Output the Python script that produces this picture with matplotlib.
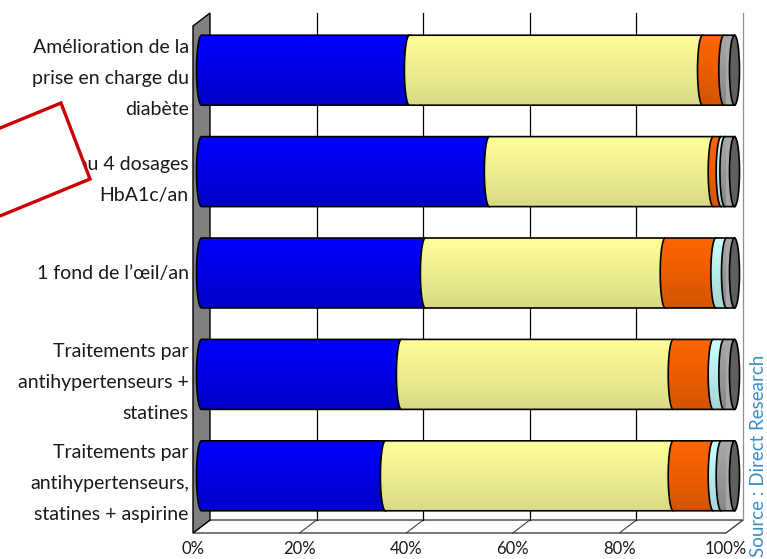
import numpy as np
import matplotlib.pyplot as plt
from matplotlib.patches import Polygon, Ellipse
from matplotlib.colors import LinearSegmentedColormap
from matplotlib.transforms import ScaledTranslation

# Données (pourcentages)
categories = [
    "Amélioration de la\nprise en charge du\ndiabète",
    "3 ou 4 dosages\nHbA1c/an",
    "1 fond de l\u2019œil/an",
    "Traitements par\nantihypertenseurs +\nstatines",
    "Traitements par\nantihypertenseurs,\nstatines + aspirine",
]
bleu = [39, 54, 42, 37.5, 34.5]
jaune = [55, 42, 45, 51, 54]
orange = [4, 1.5, 9.5, 7.5, 7.5]
cyan = [0, 0.7, 2, 2, 1.5]
gris = [2, 1.8, 1.5, 2, 2.5]

xticks = [0, 20, 40, 60, 80, 100]
xticklabels = ["0%", "20%", "40%", "60%", "80%", "100%"]

# couleurs (haut, bas) pour chaque série
couleurs = [
    ("#0000ff", "#0000c8"),
    ("#ffff99", "#dada86"),
    ("#ff6600", "#d45400"),
    ("#ccffff", "#a6d6d6"),
    ("#a8a8a8", "#888888"),
]
couleur_cap = "#5f5f5f"

plt.rcParams['font.family'] = ['Lato', 'DejaVu Sans']

W, H = 767, 559
fig = plt.figure(figsize=(W / 100, H / 100), dpi=100)
ax = fig.add_axes([193 / W, (H - 533) / H, 533 / W, 507 / H])
ax.set_xlim(0, 100)
ax.set_ylim(4.5, -0.5)
for s in ax.spines.values():
    s.set_visible(False)

# profondeur 3D en unités de données
px_x = 100 / 533
px_y = 5 / 507
dx = 17 * px_x
dy = 13 * px_y

# sol
ax.add_patch(Polygon([(0, 4.5), (100, 4.5), (100 + dx, 4.5 - dy), (dx, 4.5 - dy)],
                     closed=True, facecolor='white', edgecolor='#404040', lw=1,
                     clip_on=False, zorder=1))
for v in xticks[1:-1]:
    ax.plot([v, v + dx], [4.5, 4.5 - dy], color='#404040', lw=0.8, clip_on=False, zorder=1)
# mur gauche
ax.add_patch(Polygon([(0, 4.5), (0, -0.5), (dx, -0.5 - dy), (dx, 4.5 - dy)],
                     closed=True, facecolor='#808080', edgecolor='black', lw=1,
                     clip_on=False, zorder=2))
# quadrillage (mur du fond)
for v in xticks[1:]:
    c = '#909090' if v == 100 else 'black'
    ax.plot([v + dx, v + dx], [-0.5 - dy, 4.5 - dy], color=c, lw=0.9, clip_on=False, zorder=1)

# barres cylindriques
h = 0.69
a = 5 * px_x  # demi-largeur des ellipses
t = np.linspace(0, np.pi, 40)
grad = np.linspace(0, 1, 64).reshape(-1, 1)
series = [bleu, jaune, orange, cyan, gris]

for i in range(len(categories)):
    yc = i - dy / 2
    left = dx / 2
    z = 3
    for k, serie in enumerate(series):
        w = serie[i]
        if w <= 0:
            continue
        right = left + w
        arc_x = left - a * np.sin(t)
        arc_y = yc + h / 2 * np.cos(t)
        pts = [(right, yc - h / 2), (right, yc + h / 2)] + list(zip(arc_x, arc_y))
        poly = Polygon(pts, closed=True, facecolor=couleurs[k][0], edgecolor='none',
                       clip_on=False, zorder=z)
        ax.add_patch(poly)
        cmap = LinearSegmentedColormap.from_list('g', list(couleurs[k]))
        im = ax.imshow(grad, cmap=cmap, aspect='auto', origin='upper',
                       extent=(left - a, right, yc + h / 2, yc - h / 2),
                       interpolation='bilinear', zorder=z + 0.1)
        im.set_clip_path(poly)
        # contour par-dessus le dégradé
        ax.add_patch(Polygon(pts, closed=True, fill=False, edgecolor='black',
                             lw=1.2, clip_on=False, zorder=z + 0.2))
        z += 1
        left = right
    ax.add_patch(Ellipse((left, yc), 2 * a, h, facecolor=couleur_cap,
                         edgecolor='black', lw=1.2, clip_on=False, zorder=z + 1))

ax.set_xlim(0, 100)
ax.set_ylim(4.5, -0.5)

ax.set_xticks(xticks, xticklabels)
ax.set_yticks(range(len(categories)), categories)
ax.tick_params(axis='x', length=0, pad=6, labelsize=12, colors='#1a1a1a')
ax.tick_params(axis='y', length=0, pad=3, labelsize=14, colors='#1a1a1a')
decal = ScaledTranslation(0, 0.07, fig.dpi_scale_trans)
for lbl in ax.get_yticklabels():
    lbl.set_linespacing(2.0)
    lbl.set_transform(lbl.get_transform() + decal)

# cadre rouge (annotation)
coins = [(61, 103), (90, 179), (-95, 255), (-124, 179)]
fig.add_artist(Polygon([(x / W, (H - y) / H) for x, y in coins], closed=True,
                       facecolor='white', edgecolor='#cc0000', lw=2.4,
                       transform=fig.transFigure, zorder=5))

fig.text(759 / W, 0.004, "Source : Direct Research", rotation=90, ha='center',
         va='bottom', fontsize=13.5, color='#3d8ec4')

fig.savefig("out.png", dpi=100)
